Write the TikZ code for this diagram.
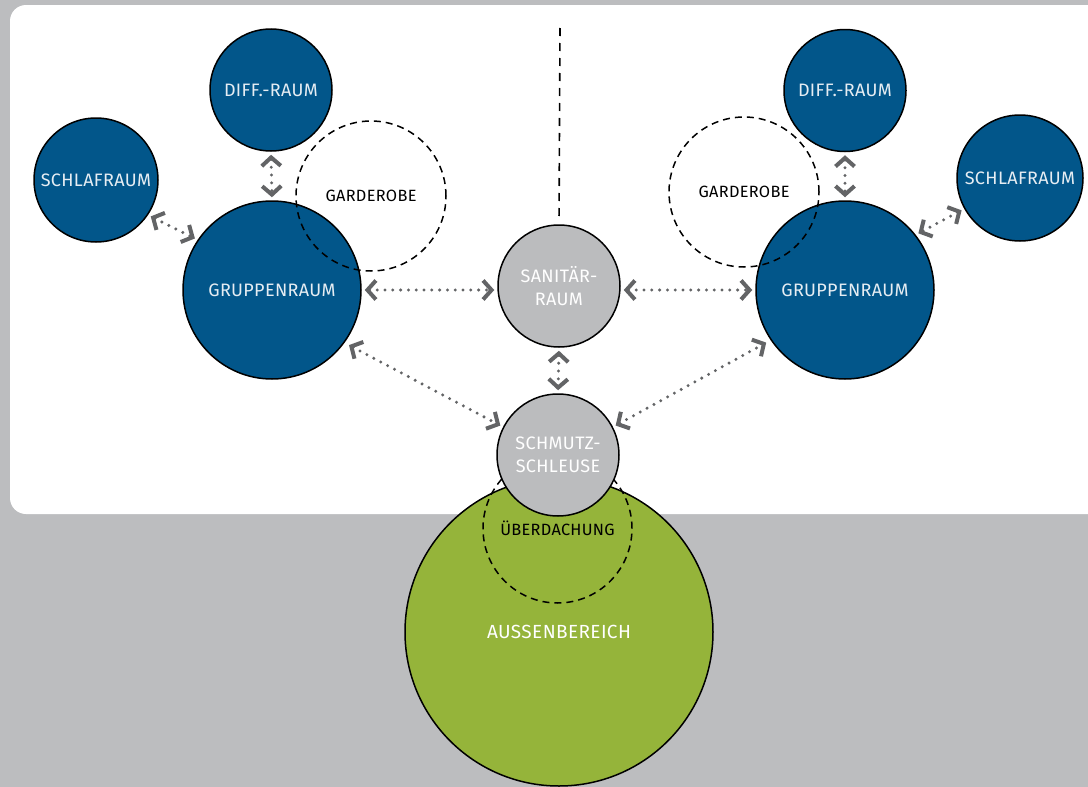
\documentclass[tikz,border=0pt]{standalone}
\usepackage{fontspec}
\setmainfont{Fira Sans}[LetterSpace=2]
\usetikzlibrary{arrows.meta}
\definecolor{bggray}{HTML}{BCBDBF}
\definecolor{roomblue}{HTML}{02568A}
\definecolor{roomgray}{HTML}{BBBCBE}
\definecolor{roomgreen}{HTML}{95B43A}
\definecolor{arrgray}{HTML}{636466}
\definecolor{lighttext}{HTML}{E6EDF3}
\tikzset{
  Chev/.tip={Straight Barb[length=8.5pt,width=19pt,line width=4pt]},
  room/.style={circle, draw=black, line width=1.5pt, inner sep=0pt, align=center,
    font=\fontsize{18}{23}\selectfont},
  blueroom/.style={room, fill=roomblue, text=lighttext},
  grayroom/.style={room, fill=roomgray, text=white},
  greenroom/.style={room, fill=roomgreen, text=white, font=\fontsize{19}{23}\selectfont},
  dashroom/.style={circle, draw=black, line width=1.5pt, dash pattern=on 7pt off 5pt,
    inner sep=0pt, text=black, font=\fontsize{16.3}{20}\selectfont},
  arr/.style={draw=arrgray, line width=3.3pt, line cap=round, dash pattern=on 0pt off 7.8pt,
    shorten <=3pt, shorten >=3pt, arrows={Chev-Chev}},
  dashline/.style={draw=black, line width=1.6pt, dash pattern=on 8pt off 7pt}
}
\begin{document}
\begin{tikzpicture}[x=1pt,y=-1pt]
\fill[bggray] (0,0) rectangle (1088,787);
\useasboundingbox (0,0) rectangle (1088,787);
\fill[white, rounded corners=16pt] (10,5) rectangle (1120,514);

% rooms
\node[blueroom, minimum size=122pt] (diffL) at (271,90) {DIFF.-RAUM};
\node[blueroom, minimum size=124pt] (schlL) at (96,180) {SCHLAFRAUM};
\node[blueroom, minimum size=178pt] (grpL) at (272,290) {GRUPPENRAUM};
\node[dashroom, minimum size=150pt] (garL) at (371,196) {GARDEROBE};

\node[blueroom, minimum size=122pt] (diffR) at (845,90.5) {DIFF.-RAUM};
\node[blueroom, minimum size=126pt] (schlR) at (1020,178) {SCHLAFRAUM};
\node[blueroom, minimum size=178pt] (grpR) at (845,290) {GRUPPENRAUM};
\node[dashroom, minimum size=150pt] (garR) at (744,192) {GARDEROBE};

\node[grayroom, minimum size=122pt] (san) at (559,286) {SANITÄR-\\RAUM};
\node[greenroom, minimum size=308pt] (aus) at (559,632) {AUSSENBEREICH};
\node[dashroom, minimum size=149pt] (ueb) at (557.5,528.5) {ÜBERDACHUNG};
\node[grayroom, minimum size=122pt] (sch) at (558,455) {SCHMUTZ-\\SCHLEUSE};

% vertical dashed line
\coordinate (topline) at (560,28);
\draw[dashline, shorten >=3pt] (topline) -- (san.north);

% connectors
\draw[arr] (diffL.south) -- (grpL.north);
\draw[arr] (schlL.-34) -- (grpL.146);
\draw[arr] (grpL.east) -- (san.west |- grpL.east);
\draw[arr, shorten <=5pt] (grpL.-36) -- (sch.153);
\draw[arr] (san.south) -- (sch.north);
\draw[arr] (san.east |- grpR.west) -- (grpR.west);
\draw[arr, shorten >=5pt] (sch.27) -- (grpR.214);
\draw[arr] (diffR.south) -- (grpR.north);
\draw[arr] (schlR.209) -- (grpR.38);
\end{tikzpicture}
\end{document}
